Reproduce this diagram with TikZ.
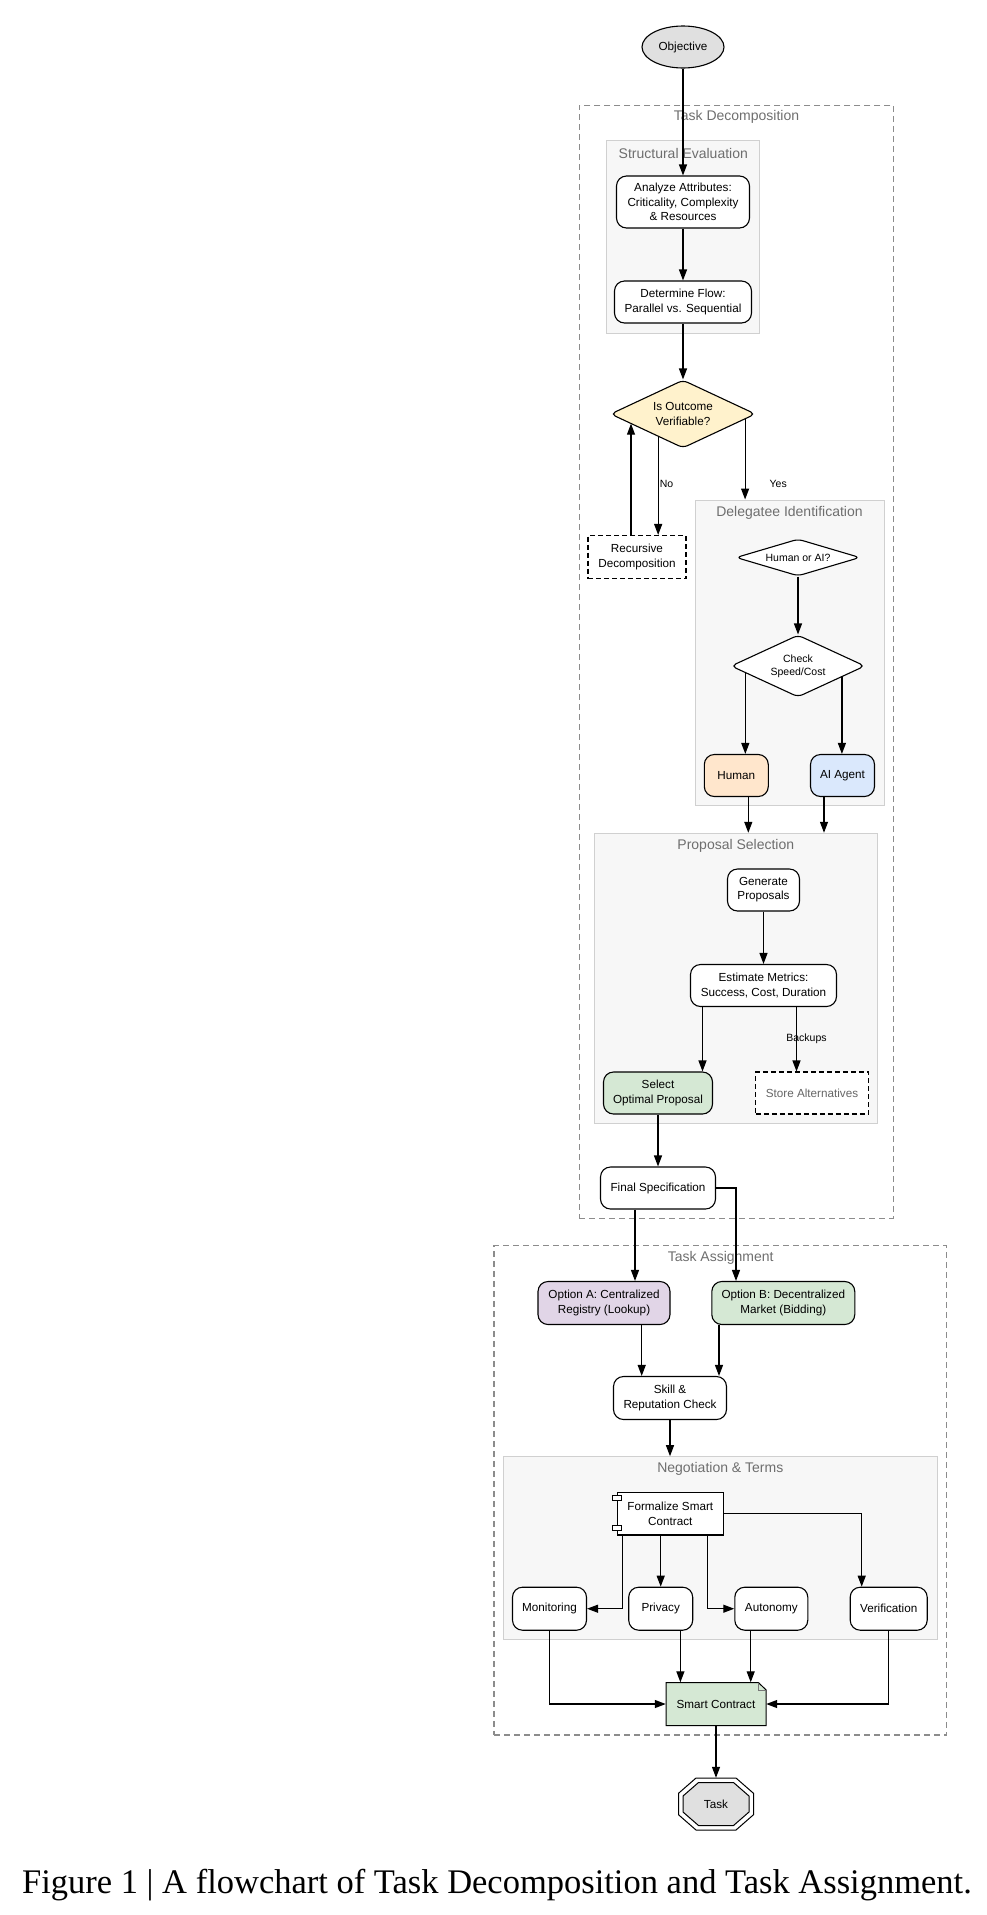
\documentclass[tikz,border=0pt]{standalone}
\usepackage{fontspec}
\setmainfont{Liberation Sans}
\newfontfamily\captionserif{Liberation Serif}
\usetikzlibrary{shapes.geometric,arrows.meta,calc}
\definecolor{greyfill}{HTML}{E0E0E0}
\definecolor{yellowfill}{HTML}{FFF2CC}
\definecolor{orangefill}{HTML}{FFE6CC}
\definecolor{bluefill}{HTML}{DAE8FC}
\definecolor{greenfill}{HTML}{D5E8D4}
\definecolor{purplefill}{HTML}{E1D5E7}
\definecolor{clusterfill}{HTML}{F7F7F7}
\definecolor{clusterline}{HTML}{D0D0D0}
\definecolor{phaseline}{HTML}{8C8C8C}
\definecolor{titletext}{HTML}{6E6E6E}
\definecolor{storetext}{HTML}{666666}
\definecolor{foldline}{HTML}{777777}
\newcommand{\fnode}{\fontsize{11.7}{14.2}\selectfont}
\newcommand{\fsmall}{\fontsize{10.5}{12.8}\selectfont}
\newcommand{\ftitle}{\fontsize{14}{16}\selectfont}

\begin{document}
\begin{tikzpicture}[x=1pt,y=-1pt,
	proc/.style={draw, line width=1.1pt, rounded corners=10pt, fill=white, align=center, font=\fnode, inner sep=2pt},
	dashedbox/.style={proc, sharp corners, dash pattern=on 5pt off 3pt},
	decision/.style={diamond, draw, line width=1.1pt, rounded corners=5pt, fill=white, align=center, font=\fnode, inner sep=0pt},
	phase/.style={draw=phaseline, line width=1.1pt, dash pattern=on 6pt off 4pt},
	cluster/.style={draw=clusterline, fill=clusterfill, line width=1pt},
	ttl/.style={text=titletext, font=\ftitle, inner sep=0pt},
	arr/.style={line width=1.2pt, -{Triangle[length=11pt,width=8pt]}},
	lbl/.style={font=\fsmall, inner sep=1pt}]
	\useasboundingbox (0,0) rectangle (986,1915);

	%PHASES
	\node[phase, minimum width=314, minimum height=1113] (decomp) at (736.3,661.7) {};
	\node[ttl] (decomptitle) at (736.5,117.3) {Task Decomposition};
	\node[phase, minimum width=452.7, minimum height=489.3] (assign) at (720.3,1490.3) {};
	\node[ttl] (assigntitle) at (720.7,1258.3) {Task Assignment};

	%CLUSTERS
	\node[cluster, minimum width=153.3, minimum height=192.6] (struct) at (683.3,237) {};
	\node[ttl] (structtitle) at (683.3,153.3) {Structural Evaluation};
	\node[cluster, minimum width=189, minimum height=305] (deleg) at (789.5,652.5) {};
	\node[ttl] (delegtitle) at (789.5,512.7) {Delegatee Identification};
	\node[cluster, minimum width=283, minimum height=290] (proposal) at (735.8,978.3) {};
	\node[ttl] (proposaltitle) at (735.8,846) {Proposal Selection};
	\node[cluster, minimum width=434, minimum height=182.6] (nego) at (720.3,1548) {};
	\node[ttl] (negotitle) at (720.3,1469) {Negotiation \& Terms};

	%DECOMPOSITION
	\node[proc, ellipse, fill=greyfill, minimum width=82, minimum height=42, inner sep=0pt] (obj) at (683,47) {Objective};
	\node[proc, minimum width=133, minimum height=52] (analyze) at (683,202) {Analyze Attributes:\\Criticality, Complexity\\\& Resources};
	\node[proc, minimum width=137, minimum height=42] (flow) at (683,302) {Determine Flow:\\Parallel vs. Sequential};
	\node[decision, aspect=2.13, fill=yellowfill, minimum width=145, minimum height=68] (verif) at (683,414) {Is Outcome\\Verifiable?};
	\node[dashedbox, minimum width=98, minimum height=43] (recur) at (637,557) {Recursive\\Decomposition};
	\node[decision, aspect=3.35, font=\fsmall, minimum width=124, minimum height=37] (humai) at (798,557.5) {Human or AI?};
	\node[decision, aspect=2.16, font=\fsmall, minimum width=134, minimum height=62] (check) at (798,666) {Check\\Speed/Cost};
	\node[proc, fill=orangefill, minimum width=64, minimum height=42] (human) at (736.3,775.5) {Human};
	\node[proc, fill=bluefill, minimum width=64, minimum height=42] (agent) at (842.5,775.5) {AI Agent};
	\node[proc, minimum width=72, minimum height=42] (gen) at (763.5,890) {Generate\\Proposals};
	\node[proc, minimum width=146, minimum height=42] (est) at (763.5,985.5) {Estimate Metrics:\\Success, Cost, Duration};
	\node[proc, fill=greenfill, minimum width=109, minimum height=42] (select) at (658,1093) {Select\\Optimal Proposal};
	\node[dashedbox, text=storetext, minimum width=113, minimum height=42] (store) at (812,1093) {Store Alternatives};
	\node[proc, minimum width=115, minimum height=42] (final) at (658,1188) {Final Specification};

	%ASSIGNMENT
	\node[proc, fill=purplefill, minimum width=132, minimum height=43] (optA) at (604,1303) {Option A: Centralized\\Registry (Lookup)};
	\node[proc, fill=greenfill, minimum width=143, minimum height=43] (optB) at (783.3,1303) {Option B: Decentralized\\Market (Bidding)};
	\node[proc, minimum width=113, minimum height=43] (skill) at (670,1398) {Skill \&\\Reputation Check};
	\node[proc, sharp corners, minimum width=106, minimum height=42.3] (formal) at (670.3,1513.8) {Formalize Smart\\Contract};
	\draw[fill=white, line width=0.9pt] ([xshift=-4.6pt,yshift=-3.3pt]formal.north west) rectangle ++(9.6,4.7);
	\draw[fill=white, line width=0.9pt] ([xshift=-4.6pt,yshift=10pt]formal.south west) rectangle ++(9.6,4.8);
	\node[proc, minimum width=74, minimum height=43] (monit) at (549.5,1608.7) {Monitoring};
	\node[proc, minimum width=64, minimum height=43] (priv) at (660.7,1608.7) {Privacy};
	\node[proc, minimum width=73, minimum height=43] (auton) at (771.3,1608.7) {Autonomy};
	\node[proc, minimum width=77, minimum height=43] (verifn) at (888.7,1608.7) {Verification};

	%CONTRACT (note shape)
	\coordinate (contractc) at (716,1704);
	\draw[fill=greenfill, line width=1pt] (contractc) ++(-50,-21.5) -- ++(92.3,0) -- ++(7.7,7.3) -- ++(0,35.7) -- ++(-100,0) -- cycle;
	\draw[line width=0.6pt, foldline] (contractc) ++(42.3,-21.5) -- ++(0,7.3) -- ++(7.7,0);
	\node[font=\fnode, minimum width=100, minimum height=43, inner sep=0pt] (contract) at (contractc) {Smart Contract};

	%TASK (double octagon)
	\coordinate (taskc) at (716,1804);
	\draw[fill=white, line width=1pt] (taskc) ++(-37.5,-10.7) -- ++(0,21.4) -- ++(17.5,15.3) -- ++(40,0) -- ++(17.5,-15.3) -- ++(0,-21.4) -- ++(-17.5,-15.3) -- ++(-40,0) -- cycle;
	\draw[fill=greyfill, line width=1pt] (taskc) ++(-33,-8) -- ++(0,16) -- ++(15.5,13.5) -- ++(35,0) -- ++(15.5,-13.5) -- ++(0,-16) -- ++(-15.5,-13.5) -- ++(-35,0) -- cycle;
	\node[font=\fnode, minimum width=75, minimum height=52, inner sep=0pt] (task) at (taskc) {Task};

	%EDGES
	\draw[arr] (obj) -- (analyze);
	\draw[arr] (analyze) -- (flow);
	\draw[arr] (flow) -- (verif);
	\coordinate (yesout) at ($(verif.east)!0.15!(verif.south)$);
	\draw[arr] (yesout) -- (yesout |- deleg.north) node[lbl, pos=0.8, right, xshift=23pt] {Yes};
	\coordinate (noout) at ($(verif.south)!0.34!(verif.west)$);
	\draw[arr] (noout) -- (noout |- recur.north) node[lbl, pos=0.48, right] {No};
	\coordinate (recurin) at ($(verif.south)!0.72!(verif.west)$);
	\coordinate (recurout) at ([xshift=-6pt]recur.north);
	\draw[arr] (recurout) -- (recurout |- recurin);
	\draw[arr] (humai) -- (check);
	\coordinate (chkl) at ($(check.south)!0.78!(check.west)$);
	\draw[arr] (chkl) -- (chkl |- human.north);
	\coordinate (chkr) at ($(check.south)!0.65!(check.east)$);
	\draw[arr] (chkr) -- (chkr |- agent.north);
	\coordinate (humout) at ([xshift=12pt]human.south);
	\draw[arr] (humout) -- (humout |- proposal.north);
	\coordinate (agentout) at ([xshift=-18.5pt]agent.south);
	\draw[arr] (agentout) -- (agentout |- proposal.north);
	\draw[arr] (gen) -- (est);
	\coordinate (estl) at ([xshift=-61pt]est.south);
	\draw[arr] (estl) -- (estl |- select.north);
	\coordinate (estr) at ([xshift=33pt]est.south);
	\draw[arr] (estr) -- (estr |- store.north) node[lbl, pos=0.5, xshift=10pt] {Backups};
	\draw[arr] (select) -- (final);
	\coordinate (finl) at ([xshift=-23pt]final.south);
	\draw[arr] (finl) -- (finl |- optA.north);
	\draw[arr] (final.east) -| ([xshift=-47.3pt]optB.north);
	\coordinate (aout) at ([xshift=37.7pt]optA.south);
	\draw[arr] (aout) -- (aout |- skill.north);
	\coordinate (bout) at ([xshift=-64.3pt]optB.south);
	\draw[arr] (bout) -- (bout |- skill.north);
	\draw[arr] (skill.south) -- (skill.south |- nego.north);
	\draw[arr] ([xshift=-47.6pt]formal.south) |- (monit);
	\coordinate (formp) at ([xshift=-9.6pt]formal.south);
	\draw[arr] (formp) -- (formp |- priv.north);
	\draw[arr] ([xshift=37.4pt]formal.south) |- (auton);
	\draw[arr] (formal.east) -| ([xshift=-27pt]verifn.north);
	\draw[arr] (monit) |- (contract);
	\coordinate (privout) at ([xshift=19.7pt]priv.south);
	\draw[arr] (privout) -- (privout |- contract.north);
	\coordinate (autonout) at ([xshift=-20.6pt]auton.south);
	\draw[arr] (autonout) -- (autonout |- contract.north);
	\draw[arr] (verifn) |- (contract);
	\draw[arr] (contract) -- (task);

	%CAPTION
	\node[font=\captionserif\fontsize{34.5}{40}\selectfont, anchor=base, inner sep=0pt] (caption) at (497,1893) {Figure 1 | A flowchart of Task Decomposition and Task Assignment.};
\end{tikzpicture}
\end{document}
